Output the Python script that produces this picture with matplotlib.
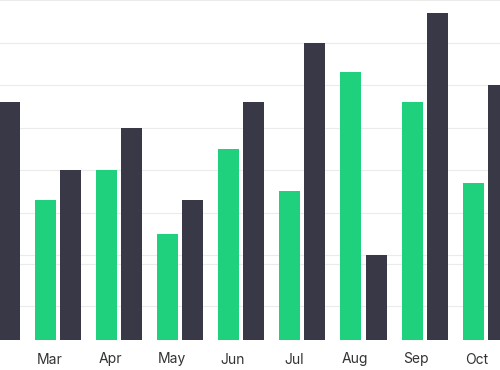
import numpy as np
import matplotlib
matplotlib.use('Agg')
import matplotlib.pyplot as plt

months = ['Feb', 'Mar', 'Apr', 'May', 'Jun', 'Jul', 'Aug', 'Sep', 'Oct']
# green series (Feb bar lies outside the visible window)
green_vals = [np.nan, 33, 40, 25, 45, 35, 63, 56, 37]
dark_vals = [56, 40, 50, 33, 56, 70, 20, 77, 60]
grid_levels = [8, 18, 20, 30, 40, 50, 60, 70, 80]

plt.rcParams['font.family'] = ['Inter', 'DejaVu Sans']

fig = plt.figure(figsize=(5, 3.7), dpi=100)
ax = fig.add_axes([0, 1 - 340 / 370, 1, 340 / 370])

x = np.arange(len(months))
w = 0.344
ax.bar(x - 0.205, green_vals, width=w, color='#1fd17c', zorder=2)
ax.bar(x + 0.205, dark_vals, width=w, color='#393846', zorder=2)

for g in grid_levels:
    ax.axhline(g, color='#ebebeb', linewidth=0.8, zorder=1)

ax.set_yticks([])
ax.set_xticks(x - 0.14)
ax.set_xticklabels(months, fontsize=10, color='#333333')
ax.tick_params(axis='x', length=0, pad=9)
# limits after ticks, otherwise set_xticks widens them
ax.set_xlim(0.051, 8.234)
ax.set_ylim(0, 80)
for s in ax.spines.values():
    s.set_visible(False)

fig.savefig('out.png', dpi=100)
